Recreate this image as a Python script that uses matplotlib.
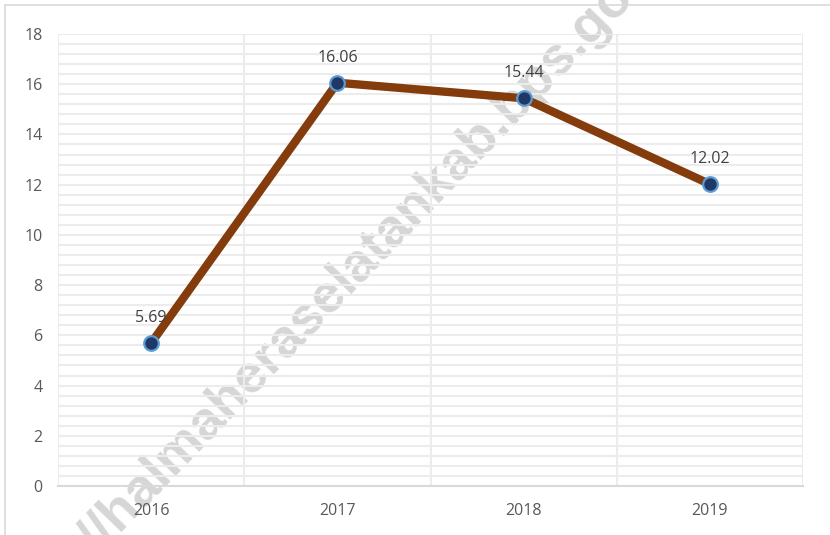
import matplotlib.pyplot as plt
from matplotlib.lines import Line2D
from matplotlib.ticker import MultipleLocator
import numpy as np

plt.rcParams['font.family'] = ['Open Sans', 'DejaVu Sans']

years = ['2016', '2017', '2018', '2019']
values = [5.69, 16.06, 15.44, 12.02]

LINE_COLOR = '#843C0C'
MARKER_FACE = '#1F3864'
MARKER_EDGE = '#5B9BD5'
GRID_COLOR = '#ececec'
TEXT_COLOR = '#595959'

fig = plt.figure(figsize=(8.3, 5.35), dpi=100)
ax = fig.add_axes([58 / 830, 1 - 486 / 535, (803 - 58) / 830, (486 - 34) / 535])
ax.set_facecolor('none')

x = np.arange(len(years))
ax.plot(x, values, '-', color=LINE_COLOR, linewidth=6, zorder=3, solid_capstyle='butt')
ax.plot(x, values, 'o', markersize=10.5, markerfacecolor=MARKER_FACE,
        markeredgecolor=MARKER_EDGE, markeredgewidth=1.6, zorder=4)

for xi, v in zip(x, values):
    ax.annotate(f'{v:.2f}', (xi, v), textcoords='offset points', xytext=(0, 15),
                ha='center', va='baseline', fontsize=11.5, color='#404040', zorder=5)

ax.set_xlim(-0.5, len(years) - 0.5)
ax.set_ylim(0, 18)
ax.set_xticks(x)
ax.set_xticklabels(years)
ax.yaxis.set_major_locator(MultipleLocator(2))
ax.yaxis.set_minor_locator(MultipleLocator(0.4))
ax.xaxis.set_minor_locator(MultipleLocator(0.5))

# Excel-like gridlines
ax.grid(which='both', axis='y', color=GRID_COLOR, linewidth=1.5, zorder=0)
ax.grid(which='minor', axis='x', color=GRID_COLOR, linewidth=1.5, zorder=0)
ax.set_axisbelow(True)

ax.tick_params(axis='both', which='both', length=0, labelsize=11.5, labelcolor=TEXT_COLOR)
ax.tick_params(axis='y', pad=11)
ax.tick_params(axis='x', pad=12)

for s in ['top', 'right', 'left']:
    ax.spines[s].set_visible(False)
ax.spines['bottom'].set_color('#d9d9d9')
ax.spines['bottom'].set_linewidth(1.5)

# chart area border (left and top visible)
fig.add_artist(Line2D([4.5 / 830, 4.5 / 830], [0, 1 - 4.5 / 535], transform=fig.transFigure,
                      color='#d9d9d9', linewidth=1.2))
fig.add_artist(Line2D([4.5 / 830, 1], [1 - 4.5 / 535, 1 - 4.5 / 535], transform=fig.transFigure,
                      color='#d9d9d9', linewidth=1.2))

# watermark behind the chart (partly off the figure, as in the source)
fig.text(326 / 830, 1 - 297 / 535, 'https://halmaheraselatankab.bps.go.id',
         rotation=46, rotation_mode='anchor', ha='center', va='center',
         fontsize=39, fontweight='bold', family='Liberation Sans',
         color='#c0c0c0', alpha=0.65, zorder=-1)

fig.savefig('out.png', dpi=100)
